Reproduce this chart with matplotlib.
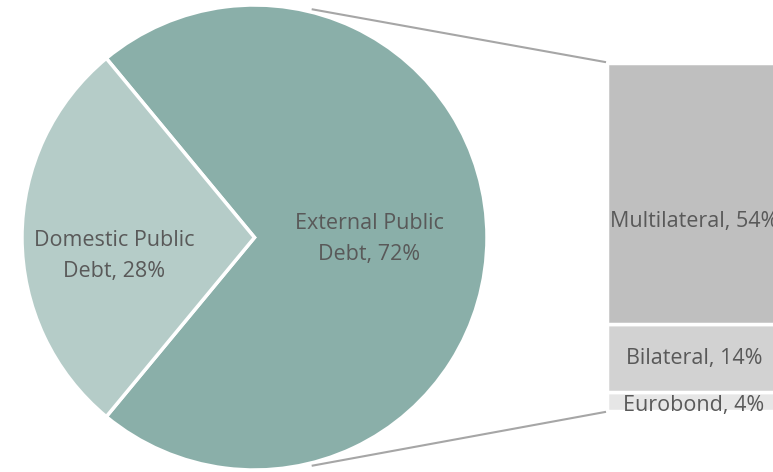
import numpy as np
import matplotlib.pyplot as plt

# pie: total public debt split
pie_labels = ["External Public\nDebt, 72%", "Domestic Public\nDebt, 28%"]
pie_values = [72, 28]
pie_colors = ["#8AAFA9", "#B5CCC8"]

# bar: breakdown of external debt
bar_labels = ["Eurobond, 4%", "Bilateral, 14%", "Multilateral, 54%"]
bar_values = [4, 14, 54]
bar_colors = ["#E6E6E6", "#D2D2D2", "#BFBFBF"]

text_color = "#595959"
plt.rcParams['font.family'] = ['Open Sans', 'DejaVu Sans']
fs = 15.5

W, H = 773, 472
fig = plt.figure(figsize=(W / 100, H / 100), dpi=100)
ax = fig.add_axes([0, 0, 1, 1])

cx, cy, r = 254.5, H - 237.5, 232.5

# external slice centred on the right, domestic on the left
start = -pie_values[0] / 100 * 360 / 2
wedges, _ = ax.pie(pie_values, colors=pie_colors, startangle=start,
                   center=(cx, cy), radius=r, frame=True,
                   wedgeprops=dict(edgecolor="white", linewidth=2.5))
ax.set_xlim(0, W)
ax.set_ylim(0, H)
ax.set_aspect('equal')
ax.axis('off')

ax.text(cx + 115, cy - 1.5, pie_labels[0], ha='center', va='center',
        fontsize=fs, color=text_color, linespacing=1.68)
ax.text(cx - 140, cy - 18.5, pie_labels[1], ha='center', va='center',
        fontsize=fs, color=text_color, linespacing=1.62)

# stacked bar on the right
bar_x, bar_w = 694, 174
bar_bottom = H - 411
scale = (411 - 63) / sum(bar_values)
bottoms = bar_bottom + scale * np.concatenate([[0], np.cumsum(bar_values)[:-1]])
heights = scale * np.array(bar_values)
ax.bar([bar_x] * 3, heights, width=bar_w, bottom=bottoms, color=bar_colors,
       edgecolor="white", linewidth=2.5)
label_y = [bottoms[0] + heights[0] / 2 - 4, bottoms[1] + heights[1] / 2 - 1,
           H - 222]
for lab, y in zip(bar_labels, label_y):
    ax.text(bar_x, y, lab, ha='center', va='center',
            fontsize=fs, color=text_color)

# connector lines
ang = np.deg2rad(75.5)
top_bar = bar_bottom + heights.sum()
ax.plot([cx + r * np.cos(ang), bar_x - bar_w / 2 - 2], [cy + r * np.sin(ang) + 3, top_bar + 1],
        color="#A6A6A6", linewidth=1.5)
ax.plot([cx + r * np.cos(ang), bar_x - bar_w / 2 - 2], [cy - r * np.sin(ang) - 3, bar_bottom - 1],
        color="#A6A6A6", linewidth=1.5)

fig.savefig("out.png", dpi=100)
